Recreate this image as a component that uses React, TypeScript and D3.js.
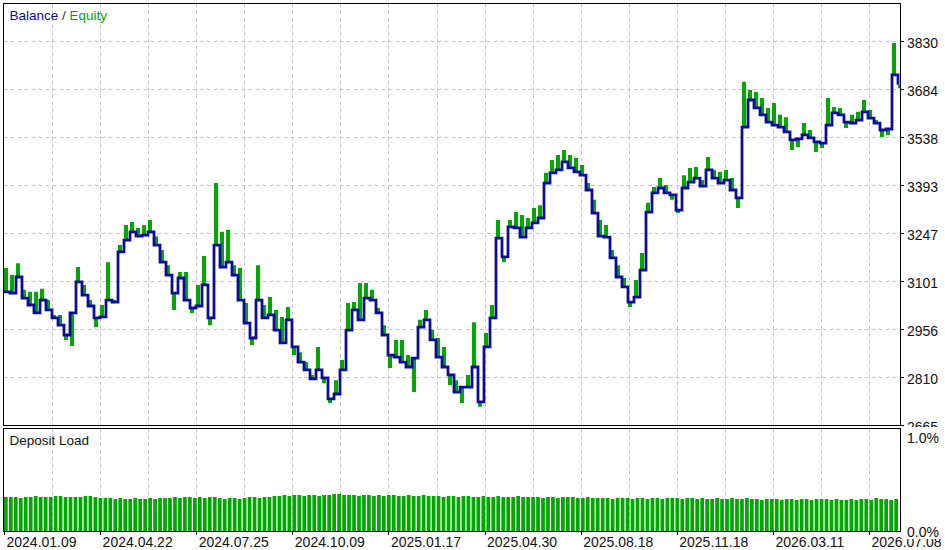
import * as d3 from "d3";
import { useEffect, useRef } from "react";

// balance after each trade (USD)
const balance = [
  3069, 3065, 3114, 3050, 3029, 3005, 3044, 3014, 2990, 2968, 2938, 3005, 3099, 3059, 3026,
  2990, 2993, 3044, 3038, 3190, 3226, 3251, 3238, 3241, 3251, 3211, 3159, 3120, 3065, 3111,
  3044, 3020, 3026, 3090, 2990, 3211, 3144, 3159, 3120, 3044, 2974, 2929, 3044, 2990, 2999,
  2953, 2914, 2984, 2902, 2856, 2832, 2805, 2832, 2808, 2744, 2759, 2832, 2953, 3014, 2984,
  3050, 3044, 3005, 2938, 2877, 2871, 2856, 2841, 2868, 2962, 2984, 2923, 2871, 2841, 2817,
  2765, 2780, 2780, 2841, 2735, 2902, 2990, 3232, 3175, 3266, 3263, 3235, 3263, 3278, 3293,
  3399, 3430, 3439, 3463, 3445, 3433, 3423, 3378, 3308, 3238, 3235, 3172, 3114, 3084, 3038,
  3053, 3135, 3311, 3369, 3384, 3369, 3363, 3317, 3384, 3402, 3414, 3390, 3439, 3414, 3399,
  3408, 3378, 3354, 3569, 3651, 3627, 3606, 3584, 3575, 3569, 3554, 3530, 3533, 3545, 3536,
  3524, 3520, 3575, 3612, 3606, 3584, 3581, 3590, 3615, 3596, 3581, 3560, 3563, 3727, 3697,
];

// equity extreme reached while each trade was open
const equity = [
  3141, 3120, 3156, 3075, 3069, 3069, 3078, 3044, 2999, 2999, 2923, 2905, 3144, 3090, 3044,
  2962, 3029, 3159, 3044, 3211, 3272, 3281, 3263, 3272, 3287, 3238, 3196, 3150, 3014, 3129,
  3129, 3005, 3090, 3178, 2968, 3399, 3251, 3257, 3150, 3141, 3035, 2908, 3150, 3029, 3053,
  3014, 2993, 3023, 2877, 2886, 2856, 2817, 2902, 2792, 2732, 2801, 2862, 3035, 3038, 3096,
  3096, 3075, 3020, 2968, 2838, 2923, 2923, 2877, 2765, 2984, 3014, 2953, 2929, 2902, 2786,
  2801, 2732, 2817, 2977, 2720, 2944, 3029, 3287, 3159, 3287, 3311, 3302, 3293, 3323, 3332,
  3430, 3469, 3484, 3499, 3484, 3475, 3454, 3399, 3348, 3287, 3272, 3196, 3150, 3111, 3023,
  3105, 3187, 3339, 3387, 3414, 3393, 3348, 3308, 3423, 3445, 3448, 3408, 3478, 3439, 3433,
  3439, 3414, 3323, 3706, 3681, 3675, 3657, 3627, 3642, 3606, 3599, 3499, 3508, 3581, 3560,
  3493, 3505, 3657, 3630, 3627, 3566, 3606, 3615, 3651, 3621, 3590, 3539, 3545, 3824, 3687,
];

// deposit load, %
const depositLoad = [
  0.34, 0.34, 0.34, 0.33, 0.34, 0.34, 0.35, 0.34, 0.34, 0.34, 0.35, 0.35, 0.34, 0.34, 0.34,
  0.34, 0.35, 0.35, 0.34, 0.33, 0.33, 0.33, 0.32, 0.33, 0.32, 0.32, 0.33, 0.32, 0.32, 0.33,
  0.32, 0.33, 0.33, 0.33, 0.34, 0.33, 0.34, 0.34, 0.33, 0.34, 0.33, 0.34, 0.34, 0.33, 0.32,
  0.33, 0.33, 0.32, 0.33, 0.34, 0.34, 0.33, 0.34, 0.34, 0.35, 0.35, 0.36, 0.35, 0.36, 0.36,
  0.35, 0.36, 0.36, 0.35, 0.36, 0.36, 0.37, 0.37, 0.36, 0.36, 0.36, 0.35, 0.36, 0.36, 0.35,
  0.36, 0.35, 0.36, 0.36, 0.35, 0.35, 0.36, 0.35, 0.35, 0.36, 0.35, 0.35, 0.35, 0.34, 0.35,
  0.35, 0.34, 0.35, 0.35, 0.34, 0.34, 0.35, 0.34, 0.34, 0.35, 0.34, 0.34, 0.34, 0.35, 0.34,
  0.34, 0.34, 0.34, 0.33, 0.34, 0.34, 0.33, 0.34, 0.34, 0.34, 0.33, 0.33, 0.34, 0.33, 0.33,
  0.33, 0.33, 0.32, 0.33, 0.33, 0.33, 0.32, 0.33, 0.33, 0.32, 0.33, 0.33, 0.32, 0.33, 0.33,
  0.33, 0.32, 0.33, 0.33, 0.32, 0.33, 0.32, 0.32, 0.33, 0.32, 0.32, 0.33, 0.32, 0.32, 0.33,
  0.32, 0.32, 0.31, 0.32, 0.32, 0.32, 0.31, 0.32, 0.32, 0.31, 0.32, 0.32, 0.31, 0.32, 0.32,
  0.32, 0.31, 0.32, 0.31, 0.31, 0.32, 0.31, 0.32, 0.32, 0.31, 0.33, 0.32, 0.32, 0.31, 0.32,
];

const dateLabels = [
  "2024.01.09", "2024.04.22", "2024.07.25", "2024.10.09", "2025.01.17",
  "2025.04.30", "2025.08.18", "2025.11.18", "2026.03.11", "2026.07.08",
];
const priceTicks = [2665, 2810, 2956, 3101, 3247, 3393, 3538, 3684, 3830];
const loadTicks = [1, 0];

const FONT = "'Liberation Sans', Arial, sans-serif";
const BLUE = "#0b0ba0";
const GREEN = "#00a800";
const GRID = "#c6c6c6";

function BalanceChart() {
  const ref = useRef<SVGSVGElement>(null);

  useEffect(() => {
    const svg = d3.select(ref.current!);
    svg.selectAll("*").remove();

    const left = 3.5, right = 900.5;
    const top = 3.5, mainBottom = 425.5;
    const subTop = 428.5, subBottom = 531.5;

    const x = d3.scaleLinear().domain([0, balance.length - 1]).range([4, 898]);
    const y = d3.scaleLinear().domain([2665, 3830]).range([425, 41]);
    const tx = d3.scaleLinear().domain([0, dateLabels.length - 1]).range([4, 869]);
    const gridX = d3.range(1, (dateLabels.length - 1) * 2 + 1).map(k => tx(k / 2));
    const xb = d3.scaleBand<number>().domain(d3.range(depositLoad.length)).range([4, 898]).paddingInner(0.25);
    const yl = d3.scaleLinear().domain([0, 1]).range([531, 431]);

    svg.append("rect").attr("width", 945).attr("height", 550).attr("fill", "#fff");

    // main pane grid
    const grid = svg.append("g").attr("stroke", GRID).attr("stroke-dasharray", "4,3").attr("stroke-width", 1);
    grid.selectAll(".h").data(priceTicks.slice(1)).join("line")
      .attr("x1", left).attr("x2", right)
      .attr("y1", d => Math.round(y(d)) + 0.5).attr("y2", d => Math.round(y(d)) + 0.5);
    grid.selectAll(".v").data(gridX).join("line")
      .attr("x1", d => Math.round(d) + 0.5).attr("x2", d => Math.round(d) + 0.5)
      .attr("y1", top).attr("y2", mainBottom);

    svg.append("clipPath").attr("id", "main-clip")
      .append("rect").attr("x", left).attr("y", top).attr("width", right - left).attr("height", mainBottom - top);
    const plot = svg.append("g").attr("clip-path", "url(#main-clip)");

    plot.append("g").selectAll("line").data(equity).join("line")
      .attr("x1", (_, i) => x(i) + 2).attr("x2", (_, i) => x(i) + 2)
      .attr("y1", (_, i) => y(balance[i])).attr("y2", d => y(d))
      .attr("stroke", GREEN).attr("stroke-width", 4);

    const line = d3.line<number>().x((_, i) => x(i)).y(d => y(d)).curve(d3.curveStepAfter);
    plot.append("path").datum(balance).attr("d", line)
      .attr("fill", "none").attr("stroke", BLUE).attr("stroke-width", 2.8);

    svg.append("rect").attr("x", left).attr("y", top).attr("width", right - left).attr("height", mainBottom - top)
      .attr("fill", "none").attr("stroke", "#000").attr("stroke-width", 1);

    const yAxis = svg.append("g");
    yAxis.selectAll("line").data(priceTicks).join("line")
      .attr("x1", right).attr("x2", right + 3.5)
      .attr("y1", d => Math.round(y(d)) + 0.5).attr("y2", d => Math.round(y(d)) + 0.5)
      .attr("stroke", "#000");
    yAxis.selectAll("text").data(priceTicks).join("text")
      .attr("x", 907).attr("y", d => y(d) + 7)
      .attr("font-family", FONT).attr("font-size", 14).attr("fill", "#111")
      .text(d => d);

    svg.append("text").attr("x", 9.5).attr("y", 20)
      .attr("font-family", FONT).attr("font-size", 13.5)
      .call(t => {
        t.append("tspan").attr("fill", BLUE).text("Balance");
        t.append("tspan").attr("fill", "#333").text(" / ");
        t.append("tspan").attr("fill", GREEN).text("Equity");
      });

    // deposit load pane (covers the clipped bottom price label)
    svg.append("rect").attr("x", 0).attr("y", 427).attr("width", 945).attr("height", 105).attr("fill", "#fff");
    svg.append("g").attr("stroke", GRID).attr("stroke-dasharray", "4,3")
      .selectAll("line").data(gridX).join("line")
      .attr("x1", d => Math.round(d) + 0.5).attr("x2", d => Math.round(d) + 0.5)
      .attr("y1", subTop).attr("y2", subBottom);
    svg.append("g").selectAll("rect").data(depositLoad).join("rect")
      .attr("x", (_, i) => xb(i)!).attr("width", xb.bandwidth())
      .attr("y", d => yl(d)).attr("height", d => yl(0) - yl(d))
      .attr("fill", GREEN);
    svg.append("rect").attr("x", left).attr("y", subTop).attr("width", right - left).attr("height", subBottom - subTop)
      .attr("fill", "none").attr("stroke", "#000");
    svg.append("text").attr("x", 9.5).attr("y", 445)
      .attr("font-family", FONT).attr("font-size", 13.5).attr("fill", "#111").text("Deposit Load");

    // date axis
    const xAxis = svg.append("g");
    xAxis.selectAll("line").data(dateLabels).join("line")
      .attr("x1", (_, i) => Math.round(tx(i)) + 0.5).attr("x2", (_, i) => Math.round(tx(i)) + 0.5)
      .attr("y1", subBottom).attr("y2", subBottom + 3.5).attr("stroke", "#000");
    xAxis.selectAll("text").data(dateLabels).join("text")
      .attr("x", (_, i) => tx(i) + 2.5).attr("y", 547)
      .attr("font-family", FONT).attr("font-size", 14).attr("fill", "#111")
      .text(d => d);

    const loadAxis = svg.append("g");
    loadAxis.append("rect").attr("x", 902).attr("y", 526).attr("width", 43).attr("height", 13).attr("fill", "#fff");
    loadAxis.selectAll("text").data(loadTicks).join("text")
      .attr("x", 907).attr("y", d => (d === 1 ? 443 : 537))
      .attr("font-family", FONT).attr("font-size", 14).attr("fill", "#111")
      .text(d => `${d.toFixed(1)}%`);
  }, []);

  return (
    <svg ref={ref} width={945} height={550}
      style={{ position: "absolute", left: 0, top: 0, display: "block" }} />
  );
}

export default function App() {
  return <BalanceChart />;
}
